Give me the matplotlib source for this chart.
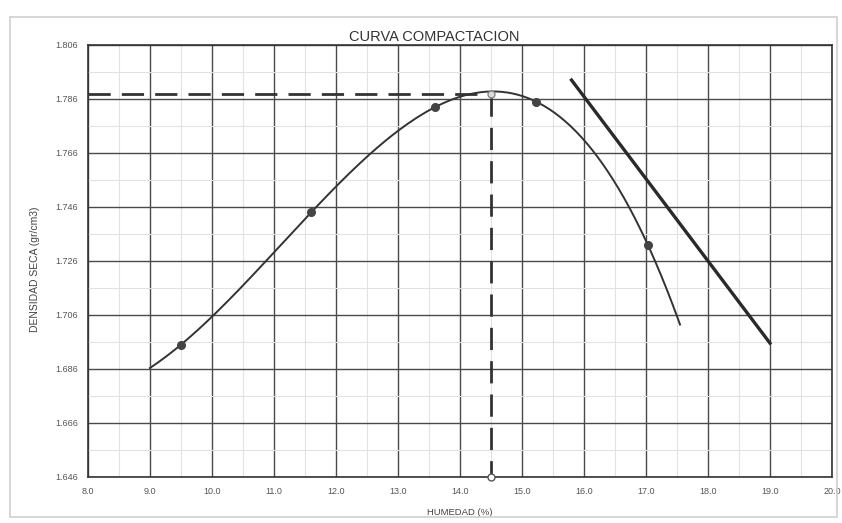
import numpy as np
import matplotlib.pyplot as plt
from matplotlib.patches import Rectangle

plt.rcParams['font.family'] = ['Liberation Sans', 'DejaVu Sans']

# ensayo proctor: humedad (%) y densidad seca (gr/cm3)
humedad = [9.5, 11.6, 13.6, 15.23, 17.03]
densidad = [1.695, 1.744, 1.783, 1.785, 1.732]

# humedad optima y densidad maxima
hum_opt = 14.5
dens_max = 1.788

# linea de saturacion
sat_x = [15.8, 19.0]
sat_y = [1.793, 1.6956]

x_ticks = [8.0, 9.0, 10.0, 11.0, 12.0, 13.0, 14.0, 15.0, 16.0, 17.0, 18.0, 19.0, 20.0]
y_ticks = [1.646, 1.666, 1.686, 1.706, 1.726, 1.746, 1.766, 1.786, 1.806]

fig = plt.figure(figsize=(8.42, 5.23), dpi=100)
fig.patches.append(Rectangle((0.012, 0.012), 0.982, 0.955, transform=fig.transFigure,
                             fill=False, edgecolor='#d0d0d0', linewidth=1.2))
ax = fig.add_axes([0.1045, 0.088, 0.8835, 0.826])

# curva ajustada
coef = np.polyfit(humedad, densidad, 4)
xs = np.linspace(9.0, 17.55, 200)
ax.plot(xs, np.polyval(coef, xs), color='#333333', lw=1.4, zorder=3)
ax.plot(humedad, densidad, 'o', color='#444444', ms=5.5, zorder=4)

ax.plot(sat_x, sat_y, color='#2a2a2a', lw=2.4, zorder=3)

ax.plot([x_ticks[0], hum_opt], [dens_max, dens_max], color='#333333', lw=2, dashes=(8, 4), zorder=3)
ax.plot([hum_opt, hum_opt], [dens_max, y_ticks[0]], color='#333333', lw=2, dashes=(8, 4), zorder=3)
ax.plot(hum_opt, dens_max, 'o', mfc='#dddddd', mec='#888888', ms=5, zorder=5)
ax.plot(hum_opt, y_ticks[0], 'o', mfc='white', mec='#555555', ms=5, clip_on=False, zorder=5)

ax.set_xlim(x_ticks[0], x_ticks[-1])
ax.set_ylim(y_ticks[0], y_ticks[-1])
ax.set_xticks(x_ticks)
ax.set_xticklabels([f'{v:.1f}' for v in x_ticks])
ax.set_yticks(y_ticks)
ax.set_yticklabels([f'{v:.3f}' for v in y_ticks])
ax.set_xticks(np.arange(8.5, 20, 1.0), minor=True)
ax.set_yticks(np.arange(1.656, 1.806, 0.02), minor=True)
ax.grid(which='major', color='#4a4a4a', lw=1.0)
ax.grid(which='minor', color='#e2e2e2', lw=0.8)
ax.tick_params(which='both', length=0, labelsize=6.5, labelcolor='#555555', pad=7)
for s in ax.spines.values():
    s.set_color('#333333')
    s.set_linewidth(1.2)

ax.set_title('CURVA COMPACTACION', fontsize=10.5, color='#333333', x=0.465, pad=3)
ax.set_xlabel('HUMEDAD (%)', fontsize=6.8, color='#444444', labelpad=9)
ax.set_ylabel('DENSIDAD SECA (gr/cm3)', fontsize=7.5, color='#444444')
ax.yaxis.set_label_coords(-0.064, 0.48)

fig.savefig('out.png', dpi=100)
